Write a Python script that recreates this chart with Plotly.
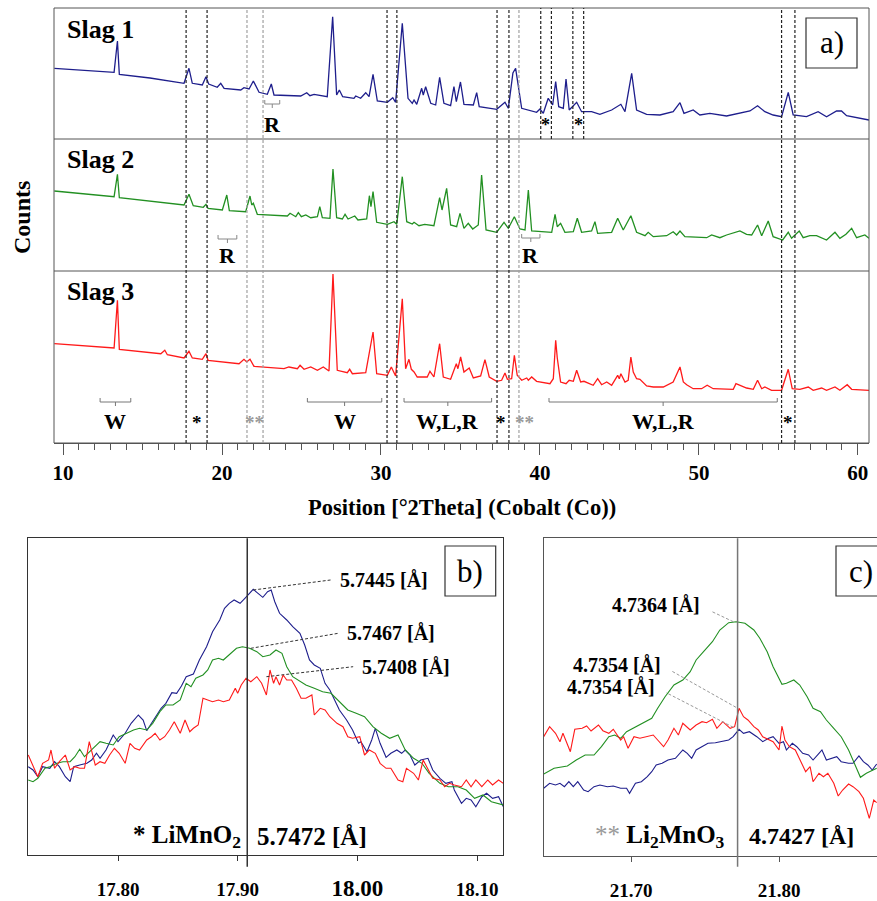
import plotly.graph_objects as go

# ---------------- panel a: full diffractograms (2theta in degrees, counts in a.u.) ----------------
slag1_2theta = [9.45, 13.21, 13.42, 13.54, 15.47, 17.61, 17.92, 18.13, 18.76, 18.99,
                19.16, 19.70, 19.92, 20.13, 21.18, 21.38, 21.70, 21.97, 22.33, 22.85,
                23.10, 23.27, 24.95, 25.33, 25.53, 25.79, 26.62, 26.96, 27.21, 27.38,
                27.59, 28.30, 28.41, 28.72, 29.04, 29.25, 29.50, 29.77, 30.40, 30.74,
                30.92, 31.34, 31.70, 31.97, 32.08, 32.25, 32.56, 32.66, 32.81, 33.13,
                33.44, 33.69, 33.96, 34.38, 34.59, 34.74, 35.00, 35.22, 35.81, 36.02,
                36.18, 37.28, 37.80, 38.01, 38.30, 38.47, 38.85, 39.79, 40.00, 40.21,
                40.52, 40.80, 40.99, 41.18, 41.47, 41.64, 41.84, 42.31, 42.62, 43.25,
                43.77, 44.51, 45.09, 45.35, 45.77, 46.08, 46.71, 47.55, 48.38, 48.81,
                49.06, 49.64, 50.06, 50.69, 51.74, 52.79, 53.21, 53.69, 54.15, 54.67,
                55.20, 55.62, 55.93, 56.77, 57.50, 58.03, 58.66, 58.97, 59.29, 60.70]
slag1_counts = [70.7, 66.7, 98, 64.7, 61, 55.7, 70.7, 55.7, 54, 62.3,
                55, 51.7, 55.7, 50.7, 49, 51.3, 50, 58, 46.7, 44.7,
                55, 44, 43, 46.3, 43.3, 44.7, 42.3, 122.3, 44, 49,
                42.3, 40.7, 43, 40.7, 46.3, 42.3, 64.7, 38, 36.7, 41.3,
                36.7, 115.7, 40.7, 35.7, 39, 34.7, 50.7, 44, 52.3, 35.7,
                34, 61.7, 35.7, 33.3, 52.3, 37.3, 57, 34.7, 34, 46.3,
                32.3, 29.7, 36.7, 30.7, 66, 70.7, 30.7, 26.7, 30, 25.7,
                40.7, 34, 57.3, 32.3, 30.7, 60, 29, 36.7, 27.3, 27.3,
                24.7, 29, 34.7, 27.3, 65.7, 29, 24.7, 24, 27.3, 36.3,
                25.7, 29, 24, 25.7, 23, 26.7, 28, 33.3, 27.3, 24,
                22.3, 46.7, 24, 22.3, 27.3, 22.3, 28, 28, 23.3, 19]

slag2_2theta = [9.45, 13.21, 13.42, 13.54, 17.61, 17.92, 18.19, 18.82, 18.99, 19.12,
                20.02, 20.30, 20.46, 21.49, 21.76, 21.87, 21.97, 22.22, 24.11, 24.28,
                24.64, 24.80, 24.99, 25.27, 25.58, 26.00, 26.15, 26.31, 26.79, 26.98,
                27.21, 27.57, 27.74, 27.93, 28.35, 28.55, 29.10, 29.27, 29.37, 29.50,
                29.73, 30.40, 30.82, 30.99, 31.34, 31.62, 31.97, 32.08, 32.39, 32.75,
                33.33, 33.69, 33.84, 34.13, 34.38, 34.76, 34.97, 35.22, 35.49, 35.77,
                36.12, 36.33, 36.61, 37.28, 37.74, 38.01, 38.39, 38.74, 39.06, 39.27,
                39.48, 40.74, 40.95, 41.09, 41.30, 41.57, 42.10, 42.35, 42.62, 43.25,
                43.46, 43.63, 44.51, 44.89, 45.24, 45.72, 46.08, 46.61, 46.81, 47.13,
                47.97, 48.38, 48.60, 48.81, 49.12, 50.49, 50.80, 51.32, 51.74, 52.58,
                53.00, 53.32, 53.69, 53.95, 54.36, 54.67, 55.27, 55.62, 55.83, 56.31,
                56.56, 56.98, 57.40, 58.03, 58.56, 58.87, 59.25, 59.61, 59.92, 60.44,
                60.70]
slag2_counts = [80, 74.3, 96.7, 73.3, 66, 76.7, 65.3, 63.7, 66.7, 62.7,
                61, 76, 60.3, 59.3, 75, 66, 67.7, 56.7, 55, 57.7,
                54.3, 58.3, 54.3, 56, 53.3, 54.3, 64.3, 53.3, 52.7, 102,
                53.3, 52, 56.7, 52, 55, 51, 52, 75.3, 64.3, 79.3,
                48.7, 46.7, 49.3, 46.7, 94.3, 49.3, 47, 48.7, 45.3, 46.7,
                45.3, 73.3, 61, 82.7, 46, 44.3, 57.7, 42.7, 47.7, 42,
                46, 96, 41, 38.7, 48.7, 42.7, 54.3, 42, 41, 81,
                40, 38.7, 56.7, 44.3, 47.7, 38.7, 39.3, 52.7, 38.7, 40,
                49.3, 37.7, 38.7, 52.7, 41, 55.3, 38.7, 35.3, 38.7, 34.3,
                35.3, 39.3, 36, 40, 34.3, 33.3, 36, 33.3, 36, 40,
                36.7, 36, 46, 35.3, 50, 34.3, 31, 38.7, 32.7, 40,
                33.3, 35.3, 35.3, 31, 38.7, 32.7, 36.7, 42.7, 33.3, 36,
                32.7]

slag3_2theta = [9.45, 13.21, 13.42, 13.54, 16.15, 16.40, 16.56, 17.61, 17.92, 18.13,
                18.76, 18.99, 19.12, 21.07, 21.38, 21.55, 21.76, 22.01, 23.90, 24.21,
                24.74, 24.91, 25.16, 25.58, 26.00, 26.37, 26.73, 26.98, 27.25, 27.88,
                28.03, 28.20, 29.04, 29.50, 29.73, 30.40, 30.65, 30.92, 31.34, 31.55,
                31.76, 31.91, 32.08, 32.28, 32.91, 33.08, 33.33, 33.69, 33.92, 34.38,
                34.74, 34.84, 35.01, 35.22, 35.55, 35.81, 36.27, 36.54, 36.81, 37.28,
                37.59, 37.80, 37.95, 38.22, 38.39, 38.57, 38.85, 39.17, 39.27, 39.48,
                39.79, 40.63, 40.84, 40.99, 41.09, 41.30, 41.64, 41.84, 42.10, 42.31,
                42.56, 42.77, 43.35, 43.63, 43.88, 44.20, 44.51, 44.89, 44.99, 45.09,
                45.35, 45.55, 45.72, 45.87, 46.08, 46.29, 46.71, 47.13, 47.76, 48.38,
                48.81, 49.02, 49.23, 49.64, 50.17, 50.52, 50.90, 52.16, 52.33, 52.69,
                53.00, 53.42, 53.69, 53.95, 54.15, 54.57, 55.20, 55.62, 55.87, 56.35,
                56.88, 57.19, 57.72, 58.03, 58.56, 58.87, 59.33, 59.61, 60.70]
slag3_counts = [99.3, 95, 142.7, 93.7, 89.3, 92.7, 88.3, 85, 91.7, 85,
                83.7, 89.3, 82.7, 79.3, 83.7, 81, 83.7, 76.7, 74.3, 76,
                74.3, 77.7, 73.7, 76, 72.7, 76, 72, 169, 72.7, 70.3,
                73.7, 69.3, 70.3, 111, 69.3, 67.7, 76, 67, 144.3, 74.3,
                83.7, 73.7, 71, 66, 66, 71.7, 66, 99.3, 66, 63.7,
                79.3, 74.3, 86, 71, 75, 65, 67, 83.3, 66, 61.7,
                62.7, 70, 63.7, 64.3, 87.7, 67.7, 62.7, 65, 62.7, 66,
                61.7, 59.3, 64.3, 102.7, 85, 61, 59.3, 62.7, 61.7, 72.7,
                61, 61.7, 57.7, 64.3, 58.3, 61, 57.7, 67.7, 64.3, 69.3,
                61, 62.7, 86, 71, 64.3, 63.7, 57, 56, 56, 61,
                76, 61, 58.3, 54.3, 54.3, 57.7, 54.3, 53.7, 59.3, 57,
                55, 53.7, 62.7, 54.3, 56, 52.7, 52.7, 73.7, 54.3, 53.7,
                56, 52.7, 55, 52.7, 56, 52.7, 58.3, 53.7, 52.7]

# reference reflections (2theta)
black_lines = [17.74, 19.06, 30.38, 31.00, 37.30, 38.05, 55.20, 56.04]
grey_lines = [21.57, 22.58, 38.68]
slag1_only_lines = [40.05, 40.72, 42.07, 42.75]

# phase ranges below slag 3: (start, end, label)
phase_ranges = [(12.33, 14.26, "W"), (25.37, 30.05, "W"),
                (31.45, 36.96, "W,L,R"), (40.57, 54.93, "W,L,R")]
# reflection markers below slag 3: (2theta, symbol, colour)
phase_marks = [(18.45, "*", "black"), (22.05, "**", "#9a9a9a"), (37.55, "*", "black"),
               (39.00, "**", "#9a9a9a"), (55.60, "*", "black")]
slag1_marks = [40.38, 42.41]
# R ranges: (slag row, start, end)
r_ranges = [(1, 22.69, 23.63), (2, 19.75, 20.93), (2, 38.85, 40.00)]

# ---------------- panel b: LiMnO2 reflection ----------------
b_slag1_2theta = [17.725, 17.729, 17.733, 17.737, 17.743, 17.747, 17.751, 17.756, 17.760, 17.763,
                  17.768, 17.774, 17.778, 17.782, 17.785, 17.790, 17.796, 17.800, 17.806, 17.811,
                  17.817, 17.821, 17.824, 17.828, 17.832, 17.836, 17.840, 17.845, 17.849, 17.853,
                  17.857, 17.863, 17.868, 17.874, 17.879, 17.885, 17.889, 17.893, 17.897, 17.902,
                  17.906, 17.910, 17.913, 17.917, 17.921, 17.925, 17.928, 17.931, 17.935, 17.941,
                  17.946, 17.952, 17.956, 17.960, 17.964, 17.969, 17.973, 17.977, 17.981, 17.985,
                  17.991, 17.996, 18.001, 18.003, 18.008, 18.012, 18.015, 18.019, 18.024, 18.028,
                  18.033, 18.037, 18.040, 18.044, 18.048, 18.053, 18.059, 18.063, 18.069, 18.074,
                  18.079, 18.081, 18.087, 18.091, 18.095, 18.099, 18.104, 18.108, 18.113, 18.118,
                  18.122]
b_slag1_counts = [88.3, 85, 78.3, 88.3, 86.7, 93.3, 88.3, 78.3, 73.3, 88.3,
                  90, 91.7, 95, 101.7, 96.7, 105, 120, 113.3, 121.7, 131.7,
                  140, 135, 124.3, 131.7, 138.3, 146.7, 151.7, 162.3, 161.7, 169,
                  178.3, 181, 195, 208.3, 223.3, 235, 246.7, 251.7, 255, 251.7,
                  256.7, 261.7, 265.7, 261.7, 257.7, 263.3, 265, 253.3, 241.7, 235,
                  228.3, 221.7, 210, 195, 190, 186.7, 171.7, 165, 155, 145,
                  135, 125, 111.7, 113.3, 103.3, 115, 126.7, 111.7, 97.7, 101.7,
                  105, 101.7, 105, 100, 90, 95, 96.7, 85, 76.7, 71.7,
                  73.3, 65, 51.7, 56.7, 55, 48.3, 58.3, 61.7, 56.7, 58.3,
                  48.3]
b_slag2_2theta = [17.725, 17.729, 17.733, 17.739, 17.743, 17.749, 17.754, 17.760, 17.764, 17.768,
                  17.772, 17.775, 17.781, 17.785, 17.790, 17.796, 17.801, 17.807, 17.813, 17.818,
                  17.824, 17.829, 17.835, 17.840, 17.846, 17.852, 17.857, 17.861, 17.865, 17.871,
                  17.875, 17.879, 17.884, 17.888, 17.893, 17.899, 17.904, 17.910, 17.916, 17.921,
                  17.927, 17.932, 17.937, 17.941, 17.946, 17.952, 17.957, 17.964, 17.971, 17.978,
                  17.985, 17.992, 17.999, 18.006, 18.013, 18.020, 18.027, 18.034, 18.040, 18.047,
                  18.054, 18.060, 18.069, 18.076, 18.084, 18.091, 18.098, 18.105, 18.112, 18.122]
b_slag2_counts = [75, 73.3, 76.7, 86.7, 88.3, 91.7, 93.3, 93.3, 98.3, 105.7,
                  98.3, 101.7, 108.3, 113.3, 111.7, 110, 118.3, 121.7, 125, 126.7,
                  125, 131.7, 143.3, 150, 150, 155, 171.7, 168.3, 176.7, 180,
                  185, 195, 196.7, 195, 200, 206.7, 208.3, 206.7, 203.3, 198.3,
                  200, 205, 201.7, 188.3, 178.3, 173.3, 170, 166.7, 163.3, 161.7,
                  153.3, 145, 141.7, 138.3, 128.3, 121.7, 116.7, 120, 105, 96.7,
                  91.7, 81.7, 71.7, 68.3, 68.3, 65, 56.7, 60, 53.3, 50]
b_slag3_2theta = [17.725, 17.729, 17.733, 17.737, 17.742, 17.744, 17.747, 17.751, 17.756, 17.760,
                  17.764, 17.768, 17.772, 17.776, 17.781, 17.785, 17.789, 17.793, 17.797, 17.801,
                  17.806, 17.810, 17.814, 17.818, 17.824, 17.828, 17.831, 17.835, 17.839, 17.843,
                  17.847, 17.852, 17.856, 17.860, 17.863, 17.867, 17.871, 17.875, 17.879, 17.884,
                  17.888, 17.893, 17.898, 17.900, 17.903, 17.907, 17.911, 17.916, 17.920, 17.924,
                  17.927, 17.930, 17.932, 17.935, 17.938, 17.941, 17.945, 17.949, 17.953, 17.957,
                  17.962, 17.964, 17.969, 17.973, 17.977, 17.983, 17.988, 17.992, 17.996, 18.002,
                  18.006, 18.010, 18.015, 18.019, 18.024, 18.028, 18.034, 18.038, 18.041, 18.047,
                  18.051, 18.055, 18.059, 18.063, 18.069, 18.073, 18.077, 18.081, 18.087, 18.091,
                  18.095, 18.099, 18.104, 18.109, 18.113, 18.118, 18.122]
b_slag3_counts = [100, 88.3, 78.3, 91.7, 95, 105, 86.7, 93.3, 100, 85,
                  88.3, 86.7, 86.7, 113.3, 90, 93.3, 91.7, 100, 106.7, 101.7,
                  91.7, 111.7, 106.7, 105, 115, 118.3, 121.7, 115, 118.3, 125,
                  133.3, 121.7, 135, 123.3, 126.7, 130, 156.7, 155, 153.3, 155,
                  153.3, 155, 166.7, 161.7, 170, 176.7, 173.3, 178.3, 171.7, 160,
                  185, 171.7, 178.3, 170, 180, 175, 175, 166.7, 156.7, 156.7,
                  160, 140, 146.7, 145, 138.3, 131.7, 128.3, 118.3, 116.7, 118.3,
                  100, 105, 101.7, 91.7, 86.7, 86.7, 75, 73.3, 86.7, 81.7,
                  75, 95, 85, 76.7, 75, 68.3, 71.7, 70, 68.3, 75,
                  68.3, 75, 68.3, 75, 70, 75, 71.7]
limno2_2theta = 17.908
# measured d-spacings: (label, peak 2theta, peak counts, label 2theta, label counts)
b_peak_labels = [("5.7445 [Å]", 17.913, 265.0, 17.9836, 275.0),
                 ("5.7467 [Å]", 17.911, 206.7, 17.9900, 221.7),
                 ("5.7408 [Å]", 17.924, 178.3, 18.0025, 188.3)]

# ---------------- panel c: Li2MnO3 reflection ----------------
c_slag1_2theta = [21.641, 21.645, 21.649, 21.652, 21.655, 21.658, 21.661, 21.664, 21.668, 21.671,
                  21.675, 21.679, 21.684, 21.688, 21.693, 21.697, 21.699, 21.703, 21.707, 21.711,
                  21.714, 21.717, 21.721, 21.725, 21.730, 21.735, 21.738, 21.741, 21.744, 21.748,
                  21.752, 21.757, 21.761, 21.766, 21.769, 21.773, 21.776, 21.780, 21.785, 21.789,
                  21.793, 21.796, 21.800, 21.803, 21.805, 21.809, 21.812, 21.816, 21.820, 21.823,
                  21.827, 21.829, 21.832, 21.836, 21.839, 21.842, 21.847, 21.850, 21.854, 21.857,
                  21.860, 21.863, 21.866]
c_slag1_counts = [67.7, 72.7, 71, 72.7, 69.3, 74.3, 69.3, 74.3, 66, 64.3,
                  69.3, 71, 69.3, 70, 67.7, 67.7, 62.7, 72.7, 74.3, 79.3,
                  84.3, 91, 92.7, 96, 97.7, 106, 102.7, 97.7, 106, 109.3,
                  112.7, 113.3, 114.3, 116, 119.3, 126.7, 122.7, 124.3, 119.3, 114.3,
                  117.7, 119.3, 112.7, 114.3, 106, 112.7, 109.3, 102.7, 101, 96,
                  102.7, 106, 96, 97.7, 99.3, 94.3, 92.7, 92.7, 100, 94.3,
                  91, 86, 92]
c_slag2_2theta = [21.641, 21.648, 21.657, 21.663, 21.669, 21.675, 21.680, 21.685, 21.689, 21.693,
                  21.697, 21.703, 21.708, 21.714, 21.718, 21.723, 21.729, 21.735, 21.740, 21.744,
                  21.749, 21.755, 21.760, 21.766, 21.771, 21.777, 21.783, 21.787, 21.792, 21.796,
                  21.802, 21.805, 21.810, 21.814, 21.819, 21.823, 21.828, 21.832, 21.837, 21.842,
                  21.847, 21.851, 21.855, 21.859, 21.864, 21.866]
c_slag2_counts = [82, 87.7, 90, 96, 101, 101, 109.3, 119.3, 121, 117.7,
                  124.3, 129.3, 132.7, 137.7, 147.7, 159.3, 171, 176, 184.3, 196,
                  204.3, 214.3, 226, 233.3, 234.3, 232.7, 226, 217.7, 204.3, 189.3,
                  171.7, 172.7, 176, 171, 159.3, 147.7, 144.3, 136, 127.7, 119.3,
                  106, 92.7, 78.7, 82.7, 86.7, 87.7]
c_slag3_2theta = [21.641, 21.645, 21.649, 21.652, 21.654, 21.659, 21.662, 21.667, 21.670, 21.673,
                  21.678, 21.681, 21.685, 21.688, 21.693, 21.695, 21.698, 21.702, 21.706, 21.711,
                  21.715, 21.718, 21.722, 21.725, 21.729, 21.732, 21.735, 21.740, 21.744, 21.748,
                  21.751, 21.755, 21.758, 21.762, 21.767, 21.770, 21.773, 21.776, 21.779, 21.783,
                  21.786, 21.789, 21.793, 21.796, 21.800, 21.802, 21.804, 21.807, 21.811, 21.814,
                  21.818, 21.821, 21.823, 21.827, 21.830, 21.833, 21.837, 21.840, 21.843, 21.847,
                  21.850, 21.854, 21.857, 21.861, 21.864, 21.866]
c_slag3_counts = [119.3, 129.3, 122.7, 114.3, 122.7, 104.3, 126.7, 127.7, 130, 125,
                  131, 125.3, 122.7, 126.7, 116, 119.3, 107.7, 119.3, 117.7, 119.3,
                  121, 116, 109.3, 116, 127.7, 121, 132.7, 126, 131, 134.3,
                  133.3, 136.7, 127.7, 134.3, 127.7, 129.3, 147.7, 139.3, 136, 129.3,
                  126, 119.3, 116, 114.3, 106, 130, 116, 109.3, 106, 96,
                  84.3, 89.3, 74.3, 82.7, 79.3, 82.7, 72.7, 60, 66, 72,
                  69.3, 64.3, 57.7, 37.7, 56, 53.3]
li2mno3_2theta = 21.772
c_peak_labels = [("4.7364 [Å]", 21.7691, 234.3, 21.7478, 251.0),
                 ("4.7354 [Å]", 21.7709, 148.7, 21.7214, 191.0),
                 ("4.7354 [Å]", 21.7691, 128.7, 21.7178, 169.3)]

# ---------------- styling ----------------
W, H = 877, 901
FONT = "Liberation Serif"
BLUE, GREEN, RED = "#1e1e8c", "#229022", "#ff1a1a"


def X(p):
    return p / W


def Y(p):
    return 1 - p / H


fig = go.Figure()

# panel a traces
for xs, ys, yax, col in [(slag1_2theta, slag1_counts, "y", BLUE),
                         (slag2_2theta, slag2_counts, "y2", GREEN),
                         (slag3_2theta, slag3_counts, "y3", RED)]:
    fig.add_trace(go.Scatter(x=xs, y=ys, xaxis="x", yaxis=yax, mode="lines",
                             line=dict(color=col, width=1.3), hoverinfo="skip"))

# panels b and c traces
for xs, ys, xax, yax, col in [(b_slag1_2theta, b_slag1_counts, "x2", "y4", BLUE),
                              (b_slag2_2theta, b_slag2_counts, "x2", "y4", GREEN),
                              (b_slag3_2theta, b_slag3_counts, "x2", "y4", RED),
                              (c_slag1_2theta, c_slag1_counts, "x3", "y5", BLUE),
                              (c_slag2_2theta, c_slag2_counts, "x3", "y5", GREEN),
                              (c_slag3_2theta, c_slag3_counts, "x3", "y5", RED)]:
    fig.add_trace(go.Scatter(x=xs, y=ys, xaxis=xax, yaxis=yax, mode="lines",
                             line=dict(color=col, width=1.1), hoverinfo="skip"))

shapes = []
annotations = []


def line(x0, y0, x1, y1, xref="paper", yref="paper", color="#555", width=1, dash="solid"):
    shapes.append(dict(type="line", x0=x0, y0=y0, x1=x1, y1=y1, xref=xref, yref=yref,
                       line=dict(color=color, width=width, dash=dash), layer="above"))


def text(s, x, y, size, xref="paper", yref="paper", xanchor="center", color="black",
         bold=True, angle=0):
    annotations.append(dict(text=f"<b>{s}</b>" if bold else s, x=x, y=y, xref=xref, yref=yref,
                            xanchor=xanchor, yanchor="middle", showarrow=False, textangle=angle,
                            font=dict(family=FONT, size=size, color=color)))


def bracket(x0, x1, ypx, color="#777"):
    line(x0, Y(ypx), x1, Y(ypx), xref="x", color=color)
    line(x0, Y(ypx), x0, Y(ypx - 4), xref="x", color=color)
    line(x1, Y(ypx), x1, Y(ypx - 4), xref="x", color=color)
    xm = (x0 + x1) / 2
    line(xm, Y(ypx), xm, Y(ypx + 4), xref="x", color=color)


# panel a frame and row separators
shapes.append(dict(type="rect", x0=X(54), x1=X(869), y0=Y(443), y1=Y(8), xref="paper",
                   yref="paper", line=dict(color="#555", width=1)))
line(X(54), Y(139), X(869), Y(139))
line(X(54), Y(271), X(869), Y(271))

for v in black_lines:
    line(v, Y(443), v, Y(8), xref="x", color="#222", width=1.2, dash="3px,2px")
for v in grey_lines:
    line(v, Y(443), v, Y(8), xref="x", color="#a0a0a0", width=1.2, dash="3px,2px")
for v in slag1_only_lines:
    line(v, Y(139), v, Y(8), xref="x", color="#222", width=1.2, dash="3px,2px")

for x0, x1, lab in phase_ranges:
    bracket(x0, x1, 402)
    text(lab, (x0 + x1) / 2, Y(421), 22, xref="x")
for xv, sym, col in phase_marks:
    text(sym, xv, Y(422), 19, xref="x", color=col)
for xv in slag1_marks:
    text("*", xv, Y(125), 18, xref="x")

r_rows = {1: (104, 124), 2: (239, 256)}
for row, x0, x1 in r_ranges:
    yb, yl = r_rows[row]
    if row == 2 and x0 > 30:
        yb = 238
    bracket(x0, x1, yb, color="#888")
    text("R", (x0 + x1) / 2, Y(yl), 22, xref="x")

text("Slag 1", X(65), Y(29), 26, xanchor="left")
text("Slag 2", X(65), Y(159), 26, xanchor="left")
text("Slag 3", X(65), Y(292), 26, xanchor="left")
text("Counts", X(22), Y(218), 24, angle=-90)
text("Position [°2Theta] (Cobalt (Co))", X(462), Y(508), 22.5)

shapes.append(dict(type="rect", x0=X(806), x1=X(857), y0=Y(68), y1=Y(18), xref="paper",
                   yref="paper", line=dict(color="#333", width=1.2)))
text("a)", X(831.5), Y(43), 31, bold=False)

# panel b annotations
line(limno2_2theta, Y(866.7), limno2_2theta, Y(538.3), xref="x2", color="#333", width=1.5)
for lab, px_, py_, tx, ty in b_peak_labels:
    line(px_, py_, tx - 0.006, ty, xref="x2", yref="y4", color="#333", width=1, dash="3px,2px")
    text(lab, tx, ty, 20, xref="x2", yref="y4", xanchor="left")
text("* LiMnO<sub>2</sub>", X(243), Y(836), 25, xanchor="right")
text("5.7472 [Å]", X(255), Y(836), 25, xanchor="left")
shapes.append(dict(type="rect", x0=X(445), x1=X(495.7), y0=Y(596), y1=Y(546), xref="paper",
                   yref="paper", line=dict(color="#333", width=1.2)))
text("b)", X(470.3), Y(571), 31, bold=False)

# panel c annotations
line(li2mno3_2theta, Y(866.7), li2mno3_2theta, Y(538.3), xref="x3", color="#777", width=1.5)
for lab, px_, py_, tx, ty in c_peak_labels:
    line(px_, py_, tx + 0.006, ty - 6, xref="x3", yref="y5", color="#999", width=1, dash="3px,2px")
    text(lab, tx, ty, 20, xref="x3", yref="y5", xanchor="right")
annotations.append(dict(text='<span style="color:#999">**</span><b> Li<sub>2</sub>MnO<sub>3</sub></b>',
                        x=X(727), y=Y(836), xref="paper", yref="paper", xanchor="right",
                        yanchor="middle", showarrow=False,
                        font=dict(family=FONT, size=25, color="black")))
text("4.7427 [Å]", X(747), Y(836), 24, xanchor="left")
shapes.append(dict(type="rect", x0=X(836), x1=X(900), y0=Y(596), y1=Y(546), xref="paper",
                   yref="paper", line=dict(color="#333", width=1.2)))
text("c)", X(860.5), Y(571), 31, bold=False)

tickfont = dict(family=FONT, size=19, color="black", weight="bold")
fig.update_layout(
    width=W, height=H, autosize=False,
    margin=dict(l=0, r=0, t=0, b=0),
    paper_bgcolor="white", plot_bgcolor="rgba(0,0,0,0)",
    showlegend=False,
    font=dict(family=FONT, color="black"),
    xaxis=dict(domain=[X(54), X(869)], anchor="y3", range=[9.43, 60.7],
               showline=True, linecolor="#555", linewidth=1,
               ticks="outside", ticklen=11, tickwidth=1, tickcolor="#555",
               tick0=0, dtick=10,
               minor=dict(dtick=1, ticks="outside", ticklen=6, tickwidth=1, tickcolor="#555",
                          showgrid=False),
               showgrid=False, zeroline=False, fixedrange=True, automargin=False,
               tickfont=dict(family=FONT, size=21, color="black", weight="bold")),
    yaxis=dict(domain=[Y(139), Y(8)], range=[0, 131], visible=False, anchor="x", fixedrange=True),
    yaxis2=dict(domain=[Y(271), Y(139)], range=[0, 132], visible=False, anchor="x", fixedrange=True),
    yaxis3=dict(domain=[Y(443), Y(271)], range=[0, 172], visible=False, anchor="x", fixedrange=True),
    xaxis2=dict(domain=[X(28), X(503)], anchor="y4", range=[17.7248, 18.1217],
                showline=True, mirror=True, linecolor="#333", linewidth=1.2,
                ticks="outside", ticklen=5, tickcolor="#333",
                tickvals=[17.8, 17.9, 18.0, 18.1],
                ticktext=["17.80", "17.90", '<span style="font-size:23px">18.00</span>', "18.10"],
                ticklabelstandoff=12,
                showgrid=False, zeroline=False, fixedrange=True, automargin=False,
                tickfont=tickfont),
    yaxis4=dict(domain=[Y(855), Y(538.3)], anchor="x2", range=[0, 316.7],
                showline=True, mirror=True, linecolor="#333", linewidth=1.2,
                ticks="", showticklabels=False, showgrid=False, zeroline=False, fixedrange=True),
    xaxis3=dict(domain=[X(544), 1], anchor="y5", range=[21.6412, 21.8662],
                showline=True, mirror=True, linecolor="#555", linewidth=1.2,
                ticks="outside", ticklen=5, tickcolor="#555",
                tickvals=[21.7, 21.8], ticktext=["21.70", "21.80"],
                ticklabelstandoff=12,
                showgrid=False, zeroline=False, fixedrange=True, automargin=False,
                tickfont=tickfont),
    yaxis5=dict(domain=[Y(856), Y(538.3)], anchor="x3", range=[0, 317.7],
                showline=True, mirror=False, linecolor="#555", linewidth=1.2,
                ticks="", showticklabels=False, showgrid=False, zeroline=False, fixedrange=True),
    shapes=shapes,
    annotations=annotations,
)

fig.write_html("out.html", config={"displayModeBar": False, "staticPlot": True})
